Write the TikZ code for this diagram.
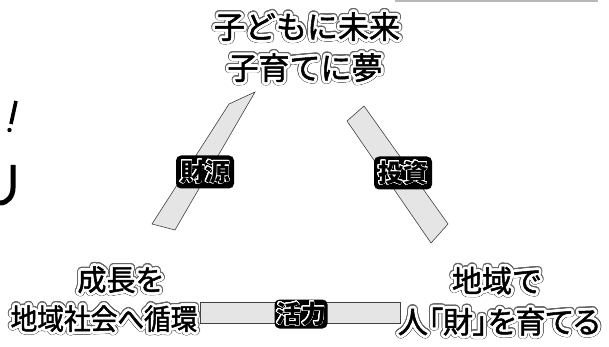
\documentclass[tikz,border=0pt]{standalone}
\usepackage{fontspec}
\usepackage{graphicx}
\usepackage[copies]{contour}
\newfontfamily\jp{Noto Sans CJK JP}
\newfontfamily\jpm{Noto Sans CJK JP}[FakeBold=1.6]
\newfontfamily\jpp{Noto Sans CJK JP}[FakeBold=1.6,RawFeature=+palt]
\contournumber{24}
\tikzset{
  band/.style={fill=gray!20, draw=black!75, line width=0.6pt},
  lbl/.style={fill=black, rounded corners=5pt, inner sep=0pt,
    minimum width=58pt, minimum height=33pt,
    font=\jp\bfseries\fontsize{25}{25}\selectfont},
  txt/.style={inner sep=0pt, text=black}
}
% name, position, font, text
\newcommand\halonode[4]{%
  \node[txt, font=#3] (#1bg) at #2
    {\contourlength{3.6pt}\contour{black!60}{#4}};
  \node[txt, font=#3] (#1) at #2
    {\contourlength{2.6pt}\contour{white}{#4}};
}
\newcommand\lbltext[1]{\contourlength{0.7pt}\contour{white}{#1}}
\begin{document}
\begin{tikzpicture}[x=1pt,y=-1pt]
  \useasboundingbox (0,0) rectangle (609,347);
  \fill[white] (0,0) rectangle (609,347);
  % fragments at the edges
  \draw[gray!55, line width=1.2pt] (395,1) -- (598,1);
  \draw[line width=3.6pt] (16,101) -- (11,124);
  \fill (9.5,130) circle (2.2pt);
  \draw[line width=5pt] (13,165) -- (13,188) to[out=-90,in=0] (0,203);
  % bands
  \draw[band] (229,104) -- (255,92) -- (175,230) -- (152,224) -- cycle;
  \draw[band] (347,121) -- (364,106) -- (448,224) -- (431,243) -- cycle;
  \draw[band] (200,302) rectangle (400,323);
  % texts
  \halonode{t1}{(307,28)}{\jpm\fontsize{31}{31}\selectfont}{子どもに未来}
  \halonode{t2}{(305,69)}{\jpm\fontsize{31}{31}\selectfont}{子育てに夢}
  \halonode{l1}{(121,281)}{\jpm\fontsize{29}{29}\selectfont}{成長を}
  \halonode{l2}{(104,320)}{\jpm\fontsize{29}{29}\selectfont}{\scalebox{0.92}[1]{地域社会へ循環}}
  \halonode{r1}{(497,282)}{\jpm\fontsize{30}{30}\selectfont}{地域で}
  \halonode{r2}{(499,323)}{\jpp\fontsize{30}{30}\selectfont}{人「財」を育てる}
  % labels
  \node[lbl] (zaigen) at (205,172) {\lbltext{財源}};
  \node[lbl] (toushi) at (403,173) {\lbltext{投資}};
  \node[lbl, minimum width=53pt, minimum height=29pt] (katsuryoku) at (301,314) {\lbltext{活力}};
\end{tikzpicture}
\end{document}
